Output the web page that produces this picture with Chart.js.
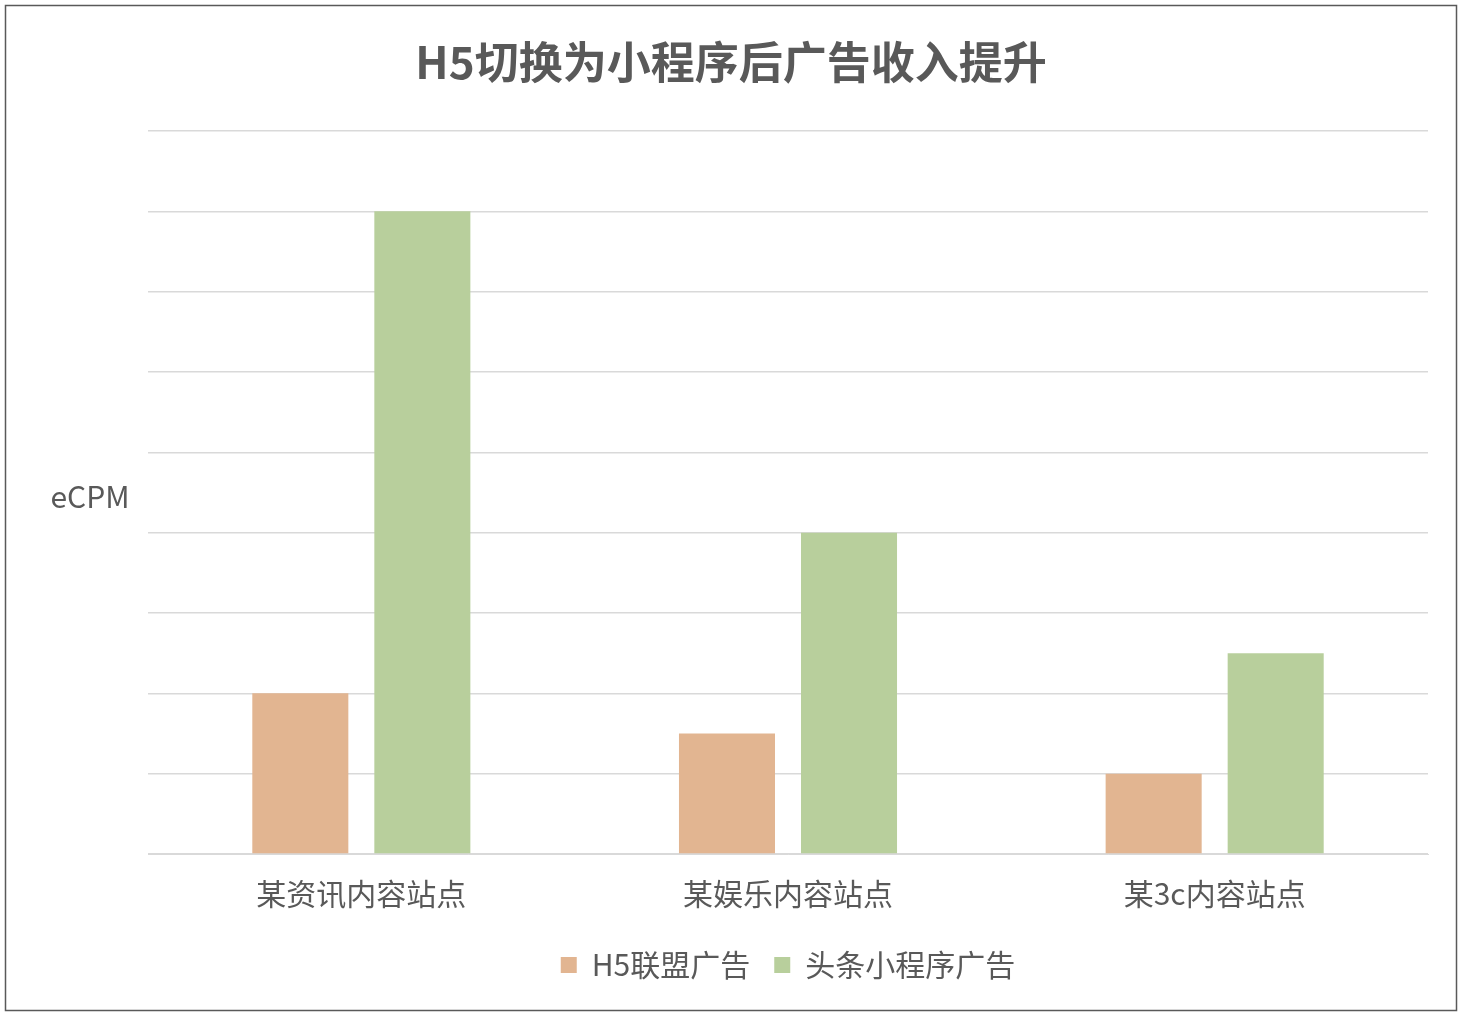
<!DOCTYPE html>
<html>
<head>
<meta charset="utf-8">
<script src="https://cdn.jsdelivr.net/npm/chart.js@4"></script>
<style>
  body { margin: 0; background: #fff; }
  #wrap { width: 1462px; height: 1016px; }
</style>
</head>
<body>
<div id="wrap"><canvas id="chart"></canvas></div>
<script>
const categories = ['某资讯内容站点', '某娱乐内容站点', '某3c内容站点'];
const h5Values = [2, 1.5, 1];
const miniValues = [8, 4, 2.5];
const seriesNames = ['H5联盟广告', '头条小程序广告'];
const chartTitle = 'H5切换为小程序后广告收入提升';

const FONT = '"Noto Sans CJK SC", "Noto Sans", sans-serif';
const GREY = '#595959';

// border, title centred on the whole picture and the horizontal "eCPM" label
const extras = {
    id: 'extras',
    afterDraw(chart) {
        const ctx = chart.ctx;
        ctx.save();
        ctx.strokeStyle = '#595959';
        ctx.lineWidth = 1.5;
        ctx.strokeRect(5.5, 5.5, chart.width - 11, chart.height - 11);
        ctx.fillStyle = GREY;
        ctx.textAlign = 'center';
        ctx.textBaseline = 'middle';
        ctx.font = 'bold 44px ' + FONT;
        ctx.fillText(chartTitle, 731, 62);
        ctx.font = '30px ' + FONT;
        ctx.fillText('eCPM', 90, 497);
        ctx.restore();
    }
};

new Chart(document.getElementById('chart'), {
    type: 'bar',
    data: {
        labels: categories,
        datasets: [{
            label: seriesNames[0],
            data: h5Values,
            backgroundColor: '#e2b591'
        }, {
            label: seriesNames[1],
            data: miniValues,
            backgroundColor: '#b8cf9c'
        }]
    },
    options: {
        responsive: true,
        maintainAspectRatio: false,
        animation: false,
        categoryPercentage: 0.572,
        barPercentage: 0.787,
        layout: { padding: { left: 148, right: 34, top: 131, bottom: 26 } },
        plugins: {
            title: { display: false },
            legend: {
                position: 'bottom',
                labels: {
                    color: GREY,
                    font: { family: FONT, size: 30 },
                    boxWidth: 16,
                    boxHeight: 16,
                    padding: 24
                }
            },
            tooltip: { enabled: false }
        },
        scales: {
            x: {
                grid: { display: false },
                border: { color: '#d9d9d9' },
                ticks: { color: GREY, font: { family: FONT, size: 30 }, padding: 14 }
            },
            y: {
                min: 0,
                max: 9,
                ticks: { display: false, stepSize: 1 },
                grid: { color: '#d9d9d9', lineWidth: 1.5, drawTicks: false },
                border: { display: false }
            }
        }
    },
    plugins: [extras]
});
</script>
</body>
</html>
